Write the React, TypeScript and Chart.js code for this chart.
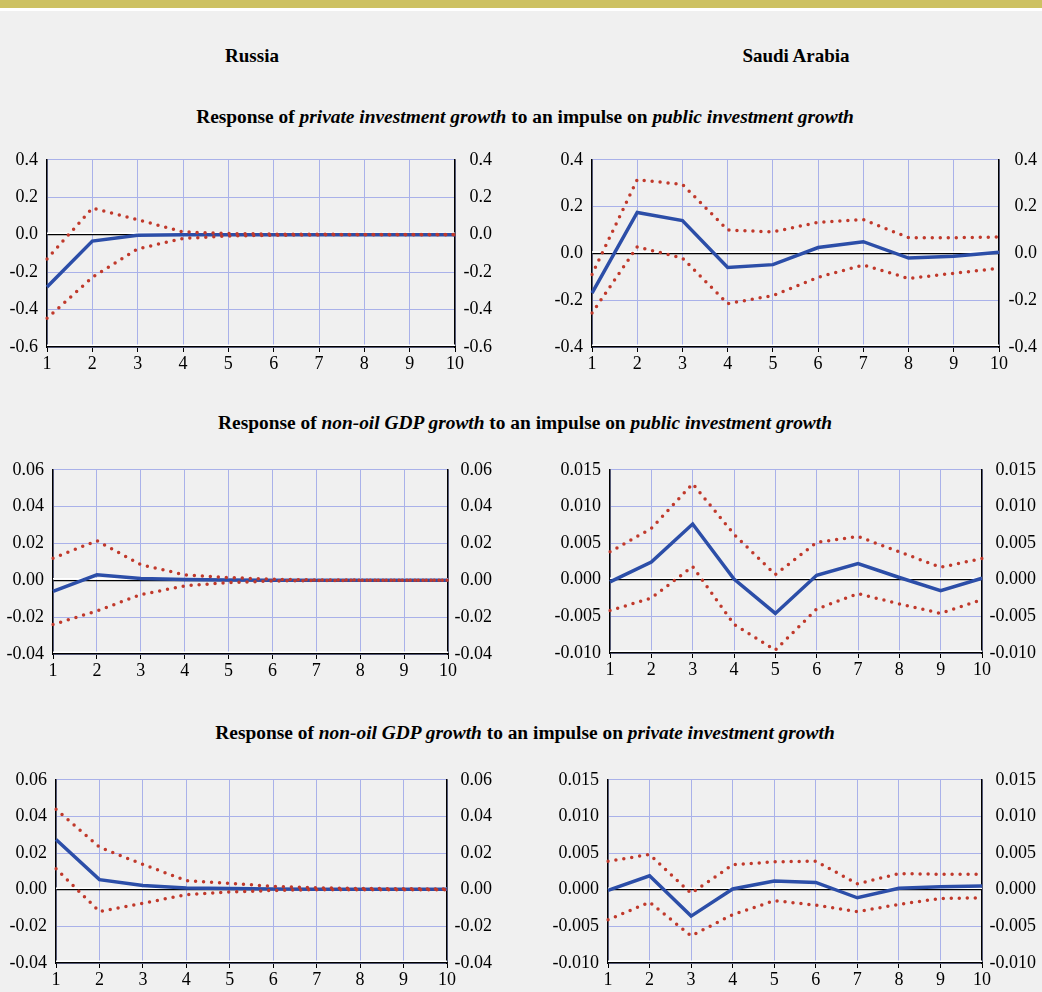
import React, { useEffect, useRef } from "react";
import { Chart, registerables } from "chart.js";
Chart.register(...registerables);

// ---------- data ----------
const periods = [1, 2, 3, 4, 5, 6, 7, 8, 9, 10];

// Russia: private investment growth <- public investment growth
const ruPrivPubMid = [-0.28, -0.034, -0.003, 0, 0, 0, 0, 0, 0, 0];
const ruPrivPubUp = [-0.13, 0.142, 0.08, 0.015, 0.006, 0.003, 0.002, 0.001, 0.001, 0.001];
const ruPrivPubLo = [-0.447, -0.228, -0.076, -0.02, -0.007, -0.003, -0.001, 0, 0, 0];
const ruPrivPubTicks = [-0.6, -0.4, -0.2, 0, 0.2, 0.4];

// Saudi Arabia: private investment growth <- public investment growth
const saPrivPubMid = [-0.17, 0.175, 0.14, -0.06, -0.048, 0.025, 0.05, -0.02, -0.012, 0.005];
const saPrivPubUp = [-0.09, 0.315, 0.295, 0.1, 0.092, 0.133, 0.145, 0.067, 0.067, 0.07];
const saPrivPubLo = [-0.255, 0.028, -0.02, -0.215, -0.18, -0.102, -0.05, -0.107, -0.085, -0.064];
const saPrivPubTicks = [-0.4, -0.2, 0, 0.2, 0.4];

// Russia: non-oil GDP growth <- public investment growth
const ruGdpPubMid = [-0.006, 0.003, 0.001, 0.0005, 0.0002, 0.0001, 0, 0, 0, 0];
const ruGdpPubUp = [0.012, 0.0215, 0.0085, 0.003, 0.0015, 0.0006, 0.0002, 0.0001, 0, 0];
const ruGdpPubLo = [-0.024, -0.0166, -0.0078, -0.003, -0.0012, -0.0004, -0.0001, 0, 0, 0];
const ruGdpPubTicks = [-0.04, -0.02, 0, 0.02, 0.04, 0.06];

// Saudi Arabia: non-oil GDP growth <- public investment growth
const saGdpPubMid = [-0.0003, 0.0024, 0.0076, 0.0001, -0.0046, 0.0006, 0.0022, 0.0003, -0.0015, 0.0002];
const saGdpPubUp = [0.0038, 0.007, 0.0131, 0.0062, 0.0007, 0.0051, 0.0059, 0.0038, 0.0017, 0.0029];
const saGdpPubLo = [-0.0042, -0.0025, 0.0018, -0.0061, -0.0096, -0.004, -0.0019, -0.0033, -0.0046, -0.0027];
const saGdpPubTicks = [-0.01, -0.005, 0, 0.005, 0.01, 0.015];

// Russia: non-oil GDP growth <- private investment growth
const ruGdpPrivMid = [0.0274, 0.0055, 0.0023, 0.001, 0.0007, 0.0004, 0.0003, 0.0002, 0.0002, 0.0002];
const ruGdpPrivUp = [0.0439, 0.0232, 0.0138, 0.005, 0.0035, 0.0018, 0.001, 0.0007, 0.0005, 0.0004];
const ruGdpPrivLo = [0.0115, -0.0119, -0.0074, -0.0027, -0.0012, -0.0004, 0, 0, 0, 0];
const ruGdpPrivTicks = [-0.04, -0.02, 0, 0.02, 0.04, 0.06];

// Saudi Arabia: non-oil GDP growth <- private investment growth
const saGdpPrivMid = [-0.0001, 0.0019, -0.0036, 0.0001, 0.0012, 0.001, -0.0011, 0.0002, 0.0004, 0.0005];
const saGdpPrivUp = [0.0039, 0.0048, -0.0005, 0.0034, 0.0038, 0.0039, 0.0008, 0.0022, 0.0021, 0.0021];
const saGdpPrivLo = [-0.0041, -0.0017, -0.0063, -0.0034, -0.0015, -0.0021, -0.003, -0.002, -0.0012, -0.0011];
const saGdpPrivTicks = [-0.01, -0.005, 0, 0.005, 0.01, 0.015];

// ---------- styles ----------
const SERIF = "'Liberation Serif', 'DejaVu Serif', 'Times New Roman', serif";
const BG = "#f0f0f0";
const GRID = "#a9b1e9";
const BLUE = "#2c4ea8";
const RED = "#c0392b";

type Geo = { x: number; y: number; w: number; h: number; axL: number; axR: number; padT: number; axB: number };

const whiteLinePlugin = {
  id: "whiteLines",
  beforeDatasetsDraw(chart: any) {
    const { ctx, chartArea, scales } = chart;
    const y0 = scales.y.getPixelForValue(0);
    ctx.save();
    ctx.strokeStyle = "#ffffff";
    ctx.lineWidth = 1.5;
    ctx.beginPath();
    ctx.moveTo(chartArea.left, y0 - 1.5);
    ctx.lineTo(chartArea.right, y0 - 1.5);
    ctx.moveTo(chartArea.left, chartArea.bottom - 1.8);
    ctx.lineTo(chartArea.right, chartArea.bottom - 1.8);
    ctx.stroke();
    ctx.restore();
  },
};

function IRFChart(props: { geo: Geo; ticks: number[]; dec: number; mid: number[]; up: number[]; lo: number[] }) {
  const ref = useRef<HTMLCanvasElement | null>(null);
  const { geo, ticks, dec, mid, up, lo } = props;
  useEffect(() => {
    if (!ref.current) return;
    const font = { family: SERIF, size: 18 };
    const yBase = (pos: "left" | "right", width: number, grid: boolean) => ({
      type: "linear" as const,
      position: pos,
      min: ticks[0],
      max: ticks[ticks.length - 1],
      afterBuildTicks: (s: any) => {
        s.ticks = ticks.map((v) => ({ value: v }));
      },
      afterFit: (s: any) => {
        s.width = width;
      },
      grid: {
        display: grid,
        drawTicks: false,
        color: (c: any) => (c.tick && Math.abs(c.tick.value) < 1e-12 ? "#000" : GRID),
        lineWidth: (c: any) => (c.tick && Math.abs(c.tick.value) < 1e-12 ? 1.2 : 1),
      },
      border: { display: true, color: "#000", width: 1.5 },
      ticks: {
        padding: 9,
        crossAlign: pos === "right" ? "far" : "near",
        color: "#000",
        font,
        callback: (v: any) => Number(v).toFixed(dec),
      },
    });
    const chart = new Chart(ref.current, {
      type: "line",
      data: {
        labels: periods.map(String),
        datasets: [
          {
            data: up,
            borderColor: RED,
            borderWidth: 3.5,
            borderDash: [0, 8],
            borderCapStyle: "round",
            pointRadius: 0,
            tension: 0,
            fill: false,
          },
          {
            data: lo,
            borderColor: RED,
            borderWidth: 3.5,
            borderDash: [0, 8],
            borderCapStyle: "round",
            pointRadius: 0,
            tension: 0,
            fill: false,
          },
          {
            data: mid,
            borderColor: BLUE,
            borderWidth: 3.5,
            pointRadius: 0,
            tension: 0,
            fill: false,
          },
        ],
      },
      options: {
        animation: false,
        responsive: false,
        maintainAspectRatio: false,
        devicePixelRatio: 1,
        layout: { padding: { top: geo.padT, left: 0, right: 0, bottom: 0 } },
        plugins: { legend: { display: false }, tooltip: { enabled: false }, title: { display: false } },
        scales: {
          x: {
            type: "category",
            offset: false,
            grid: { color: GRID, lineWidth: 1, drawTicks: true, tickLength: 5, tickColor: "#000", offset: false },
            border: { color: "#000", width: 1.5 },
            ticks: { color: "#000", font, padding: 1, maxRotation: 0, autoSkip: false },
            afterFit: (s: any) => {
              s.height = geo.axB;
            },
          },
          y: yBase("left", geo.axL, true),
          y2: yBase("right", geo.axR, false),
        },
      } as any,
      plugins: [whiteLinePlugin],
    });
    return () => chart.destroy();
  }, []);
  return (
    <canvas
      ref={ref}
      width={geo.w}
      height={geo.h}
      style={{ position: "absolute", left: geo.x, top: geo.y, width: geo.w, height: geo.h }}
    />
  );
}

const titleStyle: React.CSSProperties = {
  position: "absolute",
  fontFamily: SERIF,
  fontWeight: "bold",
  fontSize: 19,
  color: "#000",
  whiteSpace: "nowrap",
  transform: "translate(-50%, -50%)",
  lineHeight: "22px",
};

const rowTitleStyle: React.CSSProperties = { ...titleStyle, fontSize: 19.4 };

export default function App() {
  return (
    <div style={{ position: "absolute", left: 0, top: 0, width: 1042, height: 992, background: BG, overflow: "hidden" }}>
      <div style={{ position: "absolute", left: 0, top: 0, width: 1042, height: 8, background: "#cdc162" }} />
      <div style={{ position: "absolute", left: 0, top: 8, width: 1042, height: 3, background: "#ffffff" }} />

      <div style={{ ...titleStyle, left: 252, top: 56 }}>Russia</div>
      <div style={{ ...titleStyle, left: 796, top: 56 }}>Saudi Arabia</div>

      <div style={{ ...rowTitleStyle, left: 525, top: 117 }}>
        Response of <i>private investment growth</i> to an impulse on <i>public investment growth</i>
      </div>
      <div style={{ ...rowTitleStyle, left: 525, top: 423 }}>
        Response of <i>non-oil GDP growth</i> to an impulse on <i>public investment growth</i>
      </div>
      <div style={{ ...rowTitleStyle, left: 525, top: 733 }}>
        Response of <i>non-oil GDP growth</i> to an impulse on <i>private investment growth</i>
      </div>

      <IRFChart
        geo={{ x: 0, y: 140, w: 492, h: 240, axL: 47, axR: 37, padT: 18, axB: 33 }}
        ticks={ruPrivPubTicks}
        dec={1}
        mid={ruPrivPubMid}
        up={ruPrivPubUp}
        lo={ruPrivPubLo}
      />
      <IRFChart
        geo={{ x: 540, y: 140, w: 497, h: 240, axL: 52, axR: 38, padT: 18, axB: 33 }}
        ticks={saPrivPubTicks}
        dec={1}
        mid={saPrivPubMid}
        up={saPrivPubUp}
        lo={saPrivPubLo}
      />
      <IRFChart
        geo={{ x: 0, y: 450, w: 492, h: 240, axL: 53, axR: 44, padT: 15, axB: 36 }}
        ticks={ruGdpPubTicks}
        dec={2}
        mid={ruGdpPubMid}
        up={ruGdpPubUp}
        lo={ruGdpPubLo}
      />
      <IRFChart
        geo={{ x: 540, y: 450, w: 496, h: 240, axL: 70, axR: 54, padT: 14, axB: 37 }}
        ticks={saGdpPubTicks}
        dec={3}
        mid={saGdpPubMid}
        up={saGdpPubUp}
        lo={saGdpPubLo}
      />
      <IRFChart
        geo={{ x: 0, y: 760, w: 492, h: 232, axL: 56, axR: 45, padT: 14, axB: 29 }}
        ticks={ruGdpPrivTicks}
        dec={2}
        mid={ruGdpPrivMid}
        up={ruGdpPrivUp}
        lo={ruGdpPrivLo}
      />
      <IRFChart
        geo={{ x: 540, y: 760, w: 496, h: 232, axL: 68, axR: 54, padT: 14, axB: 29 }}
        ticks={saGdpPrivTicks}
        dec={3}
        mid={saGdpPrivMid}
        up={saGdpPrivUp}
        lo={saGdpPrivLo}
      />
    </div>
  );
}
